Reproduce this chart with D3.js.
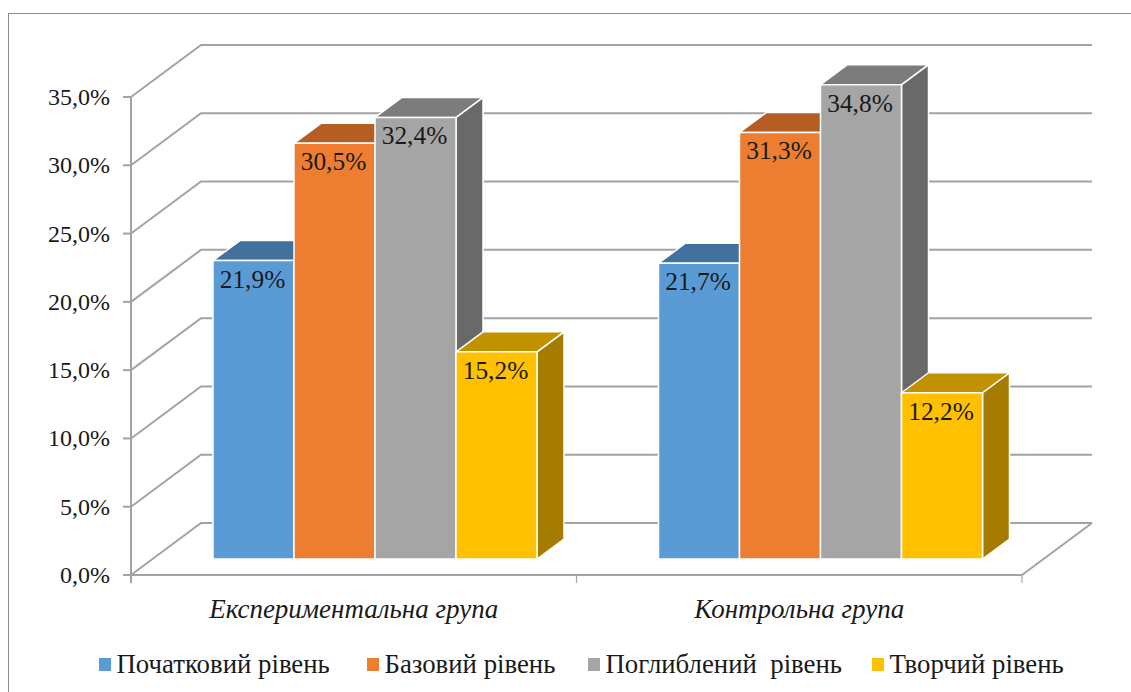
<!DOCTYPE html>
<html>
<head>
<meta charset="utf-8">
<script src="https://cdnjs.cloudflare.com/ajax/libs/d3/7.8.5/d3.min.js"></script>
<style>
  html, body { margin: 0; padding: 0; background: #fff; overflow: hidden; }
  svg { display: block; }
  text { font-family: "Liberation Serif", serif; fill: #1a1a1a; }
</style>
</head>
<body>
<div class="js-container"></div>
<script>
;(function() {
  'use strict';

  var categories = ['Експериментальна група', 'Контрольна група'];
  var seriesNames = ['Початковий рівень', 'Базовий рівень', 'Поглиблений  рівень', 'Творчий рівень'];
  var seriesValues = [
    [21.9, 30.5, 32.4, 15.2],
    [21.7, 31.3, 34.8, 12.2]
  ];
  var tickValues = [0, 5, 10, 15, 20, 25, 30, 35];

  var frontColors = ['#5b9bd5', '#ed7d31', '#a5a5a5', '#ffc000'];
  var topColors = ['#41719c', '#b55d22', '#7c7c7c', '#c29100'];
  var sideColors = ['#36607f', '#8f4a1c', '#696969', '#a67c00'];
  var lineColor = '#a3a3a3';

  var width = 1131;
  var height = 692;

  // Offset of the back wall from the front of the plot.
  var wallDx = 70;
  var wallDy = -52;
  // Depth of a bar.
  var depthDx = 27;
  var depthDy = -20;

  var xGroup = d3.scaleBand().domain(categories).range([131, 1022]);
  // Bars stand inside the floor, so they get their own scales.
  var xBar = d3.scaleBand().domain(seriesNames).range([82, 406]);
  var y = d3.scaleLinear().domain([0, 35]).range([575, 97]);
  var yBar = d3.scaleLinear().domain([0, 35]).range([559, 82]);

  var formatPct = function(v) {
    return v.toFixed(1).replace('.', ',') + '%';
  };

  var svg = d3.select('.js-container').append('svg')
    .attr('width', width)
    .attr('height', height);

  // Chart frame, its right and bottom edges run off the page.
  svg.append('rect')
    .attr('x', 8.5).attr('y', 13.5)
    .attr('width', 1140).attr('height', 700)
    .attr('fill', '#fff')
    .attr('stroke', '#8c8c8c')
    .attr('stroke-width', 1);

  drawWalls();
  drawAxisLabels();
  categories.forEach(drawGroup);
  drawLegend();

  /**
   * Back wall gridlines, the slanted lines on the side wall and the floor.
   */
  function drawWalls() {
    var grid = svg.append('g')
      .attr('fill', 'none')
      .attr('stroke', lineColor)
      .attr('stroke-width', 2);

    grid.selectAll('path')
      .data(tickValues)
      .enter().append('path')
      .attr('d', function(d) {
        var p = d3.path();
        p.moveTo(131, y(d));
        p.lineTo(131 + wallDx, y(d) + wallDy);
        p.lineTo(1022 + wallDx, y(d) + wallDy);
        return p.toString();
      });

    // Floor, closing the back gridline down to the front edge.
    var floor = d3.path();
    floor.moveTo(1022 + wallDx, y(0) + wallDy);
    floor.lineTo(1022, y(0));
    grid.append('path').attr('d', floor.toString());

    // Value axis with tick marks on the left.
    var axis = svg.append('g').attr('stroke', lineColor).attr('stroke-width', 2);
    axis.append('line')
      .attr('x1', 131).attr('x2', 131)
      .attr('y1', y(35)).attr('y2', y(0) + 8);
    axis.append('line')
      .attr('x1', 131).attr('x2', 1022)
      .attr('y1', y(0)).attr('y2', y(0));
    axis.selectAll('.tick-y')
      .data(tickValues)
      .enter().append('line')
      .attr('class', 'tick-y')
      .attr('x1', 123).attr('x2', 131)
      .attr('y1', function(d) { return y(d); })
      .attr('y2', function(d) { return y(d); });
    axis.selectAll('.tick-x')
      .data(xGroup.domain().concat('end'))
      .enter().append('line')
      .attr('class', 'tick-x')
      .attr('stroke-width', 1.2)
      .attr('x1', function(d) { return d === 'end' ? 1022 : xGroup(d); })
      .attr('x2', function(d) { return d === 'end' ? 1022 : xGroup(d); })
      .attr('y1', y(0))
      .attr('y2', y(0) + 8);
  }

  function drawAxisLabels() {
    svg.selectAll('.label-y')
      .data(tickValues)
      .enter().append('text')
      .attr('class', 'label-y')
      .attr('x', 110)
      .attr('y', function(d) { return y(d) + 8; })
      .attr('text-anchor', 'end')
      .attr('font-size', 24)
      .text(formatPct);

    svg.selectAll('.label-x')
      .data(categories)
      .enter().append('text')
      .attr('class', 'label-x')
      .attr('x', function(d) { return xGroup(d) + xGroup.bandwidth() / 2; })
      .attr('y', 618)
      .attr('text-anchor', 'middle')
      .attr('font-size', 27)
      .attr('font-style', 'italic')
      .text(function(d) { return d; });
  }

  /**
   * Draws the four bars of one group, each as front, top and side faces.
   */
  function drawGroup(category, groupIdx) {
    var group = svg.append('g')
      .attr('transform', 'translate(' + xGroup(category) + ',0)')
      .attr('stroke', '#fff')
      .attr('stroke-width', 1.5)
      .attr('stroke-linejoin', 'round');

    seriesValues[groupIdx].forEach(function(value, i) {
      var x0 = xBar(seriesNames[i]);
      var x1 = x0 + xBar.bandwidth();
      var top = yBar(value);
      var base = yBar(0);

      group.append('path')
        .attr('fill', sideColors[i])
        .attr('d', poly([[x1, top], [x1 + depthDx, top + depthDy], [x1 + depthDx, base + depthDy], [x1, base]]));
      group.append('path')
        .attr('fill', topColors[i])
        .attr('d', poly([[x0, top], [x0 + depthDx, top + depthDy], [x1 + depthDx, top + depthDy], [x1, top]]));
      group.append('rect')
        .attr('fill', frontColors[i])
        .attr('x', x0).attr('y', top)
        .attr('width', x1 - x0).attr('height', base - top);
    });

    // Labels go last so that no neighbouring bar covers them.
    seriesValues[groupIdx].forEach(function(value, i) {
      group.append('text')
        .attr('x', xBar(seriesNames[i]) + xBar.bandwidth() / 2 - 1)
        .attr('y', yBar(value) + 27)
        .attr('text-anchor', 'middle')
        .attr('font-size', 25.4)
        .attr('stroke', 'none')
        .text(formatPct(value));
    });
  }

  function drawLegend() {
    var markerX = [99, 367, 588, 872];
    var legend = svg.append('g');
    seriesNames.forEach(function(name, i) {
      legend.append('rect')
        .attr('x', markerX[i]).attr('y', 658)
        .attr('width', 12).attr('height', 13)
        .attr('fill', frontColors[i]);
      legend.append('text')
        .attr('x', markerX[i] + 17.5)
        .attr('y', 673)
        .attr('font-size', 26.8)
        .style('white-space', 'pre')
        .text(name);
    });
  }

  function poly(points) {
    return d3.line()(points) + 'Z';
  }

}());
</script>
</body>
</html>
